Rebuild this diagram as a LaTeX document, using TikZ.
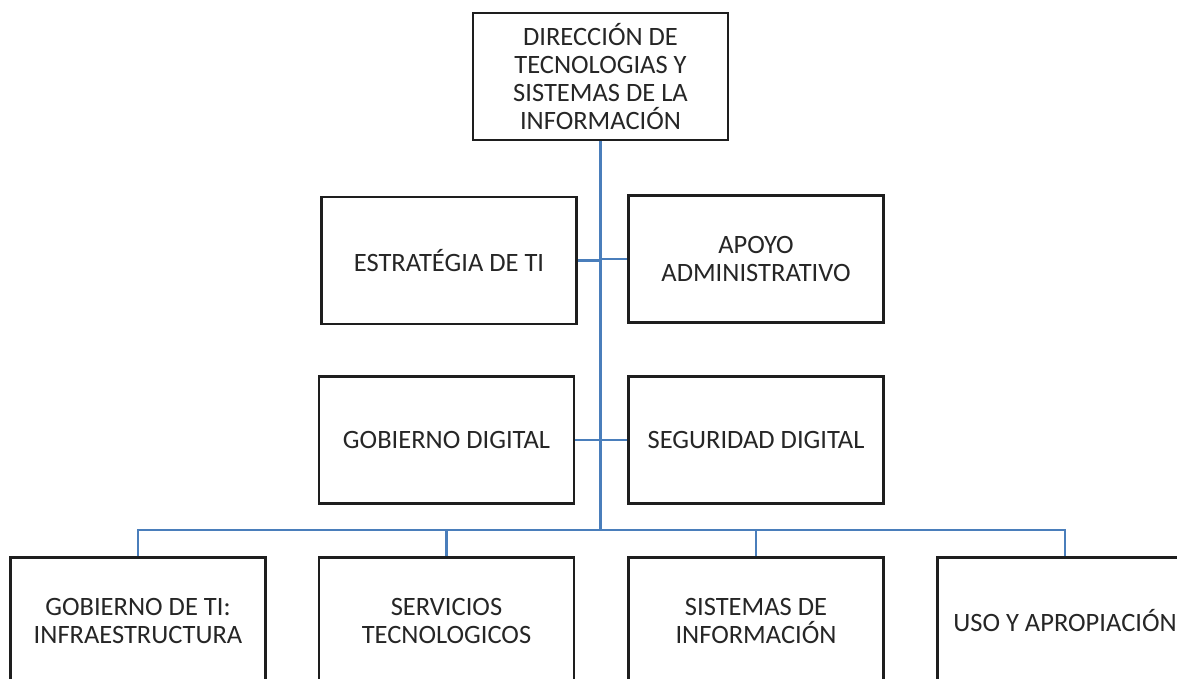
\documentclass[tikz,border=0pt]{standalone}
\usepackage{fontspec}
\setmainfont{Carlito}
\definecolor{lineblue}{RGB}{74,126,187}
\definecolor{boxline}{RGB}{30,30,30}
\definecolor{txt}{RGB}{38,38,38}
\begin{document}
\begin{tikzpicture}[x=1pt,y=-1pt,
  box/.style={draw=boxline,line width=2.6pt,minimum width=255pt,minimum height=127pt,
    align=center,text=txt,inner sep=0pt,font=\fontsize{26.5pt}{28pt}\selectfont},
  conn/.style={draw=lineblue,line width=2.2pt}]
\useasboundingbox (0,0) rectangle (1177,679);
\clip (0,0) rectangle (1177,679);
\fill[white] (0,0) rectangle (1177,679);
\node[box] (top) at (600.5,76.5) {DIRECCIÓN DE\\TECNOLOGIAS Y\\SISTEMAS DE LA\\INFORMACIÓN};
\node[box] (estr) at (449,260.5) {ESTRATÉGIA DE TI};
\node[box] (apoyo) at (756,259) {APOYO\\ADMINISTRATIVO};
\node[box] (gobd) at (446.5,440) {GOBIERNO DIGITAL};
\node[box] (seg) at (756,440) {SEGURIDAD DIGITAL};
\node[box] (b1) at (138,621) {GOBIERNO DE TI:\\INFRAESTRUCTURA};
\node[box] (b2) at (446.5,621) {SERVICIOS\\TECNOLOGICOS};
\node[box] (b3) at (756,621) {SISTEMAS DE\\INFORMACIÓN};
\node[box] (b4) at (1065,621) {USO Y APROPIACIÓN};
\coordinate (bus) at (600.5,530);
\draw[conn] (top.south) -- (bus);
\draw[conn] (estr.east) -- (estr.east -| top.south);
\draw[conn] (apoyo.west) -- (apoyo.west -| top.south);
\draw[conn] (gobd.east) -- (seg.west);
\draw[conn] (b1.north) |- (bus) -| (b4.north);
\draw[conn] (b2.north) -- (b2.north |- bus);
\draw[conn] (b3.north) -- (b3.north |- bus);
\end{tikzpicture}
\end{document}
